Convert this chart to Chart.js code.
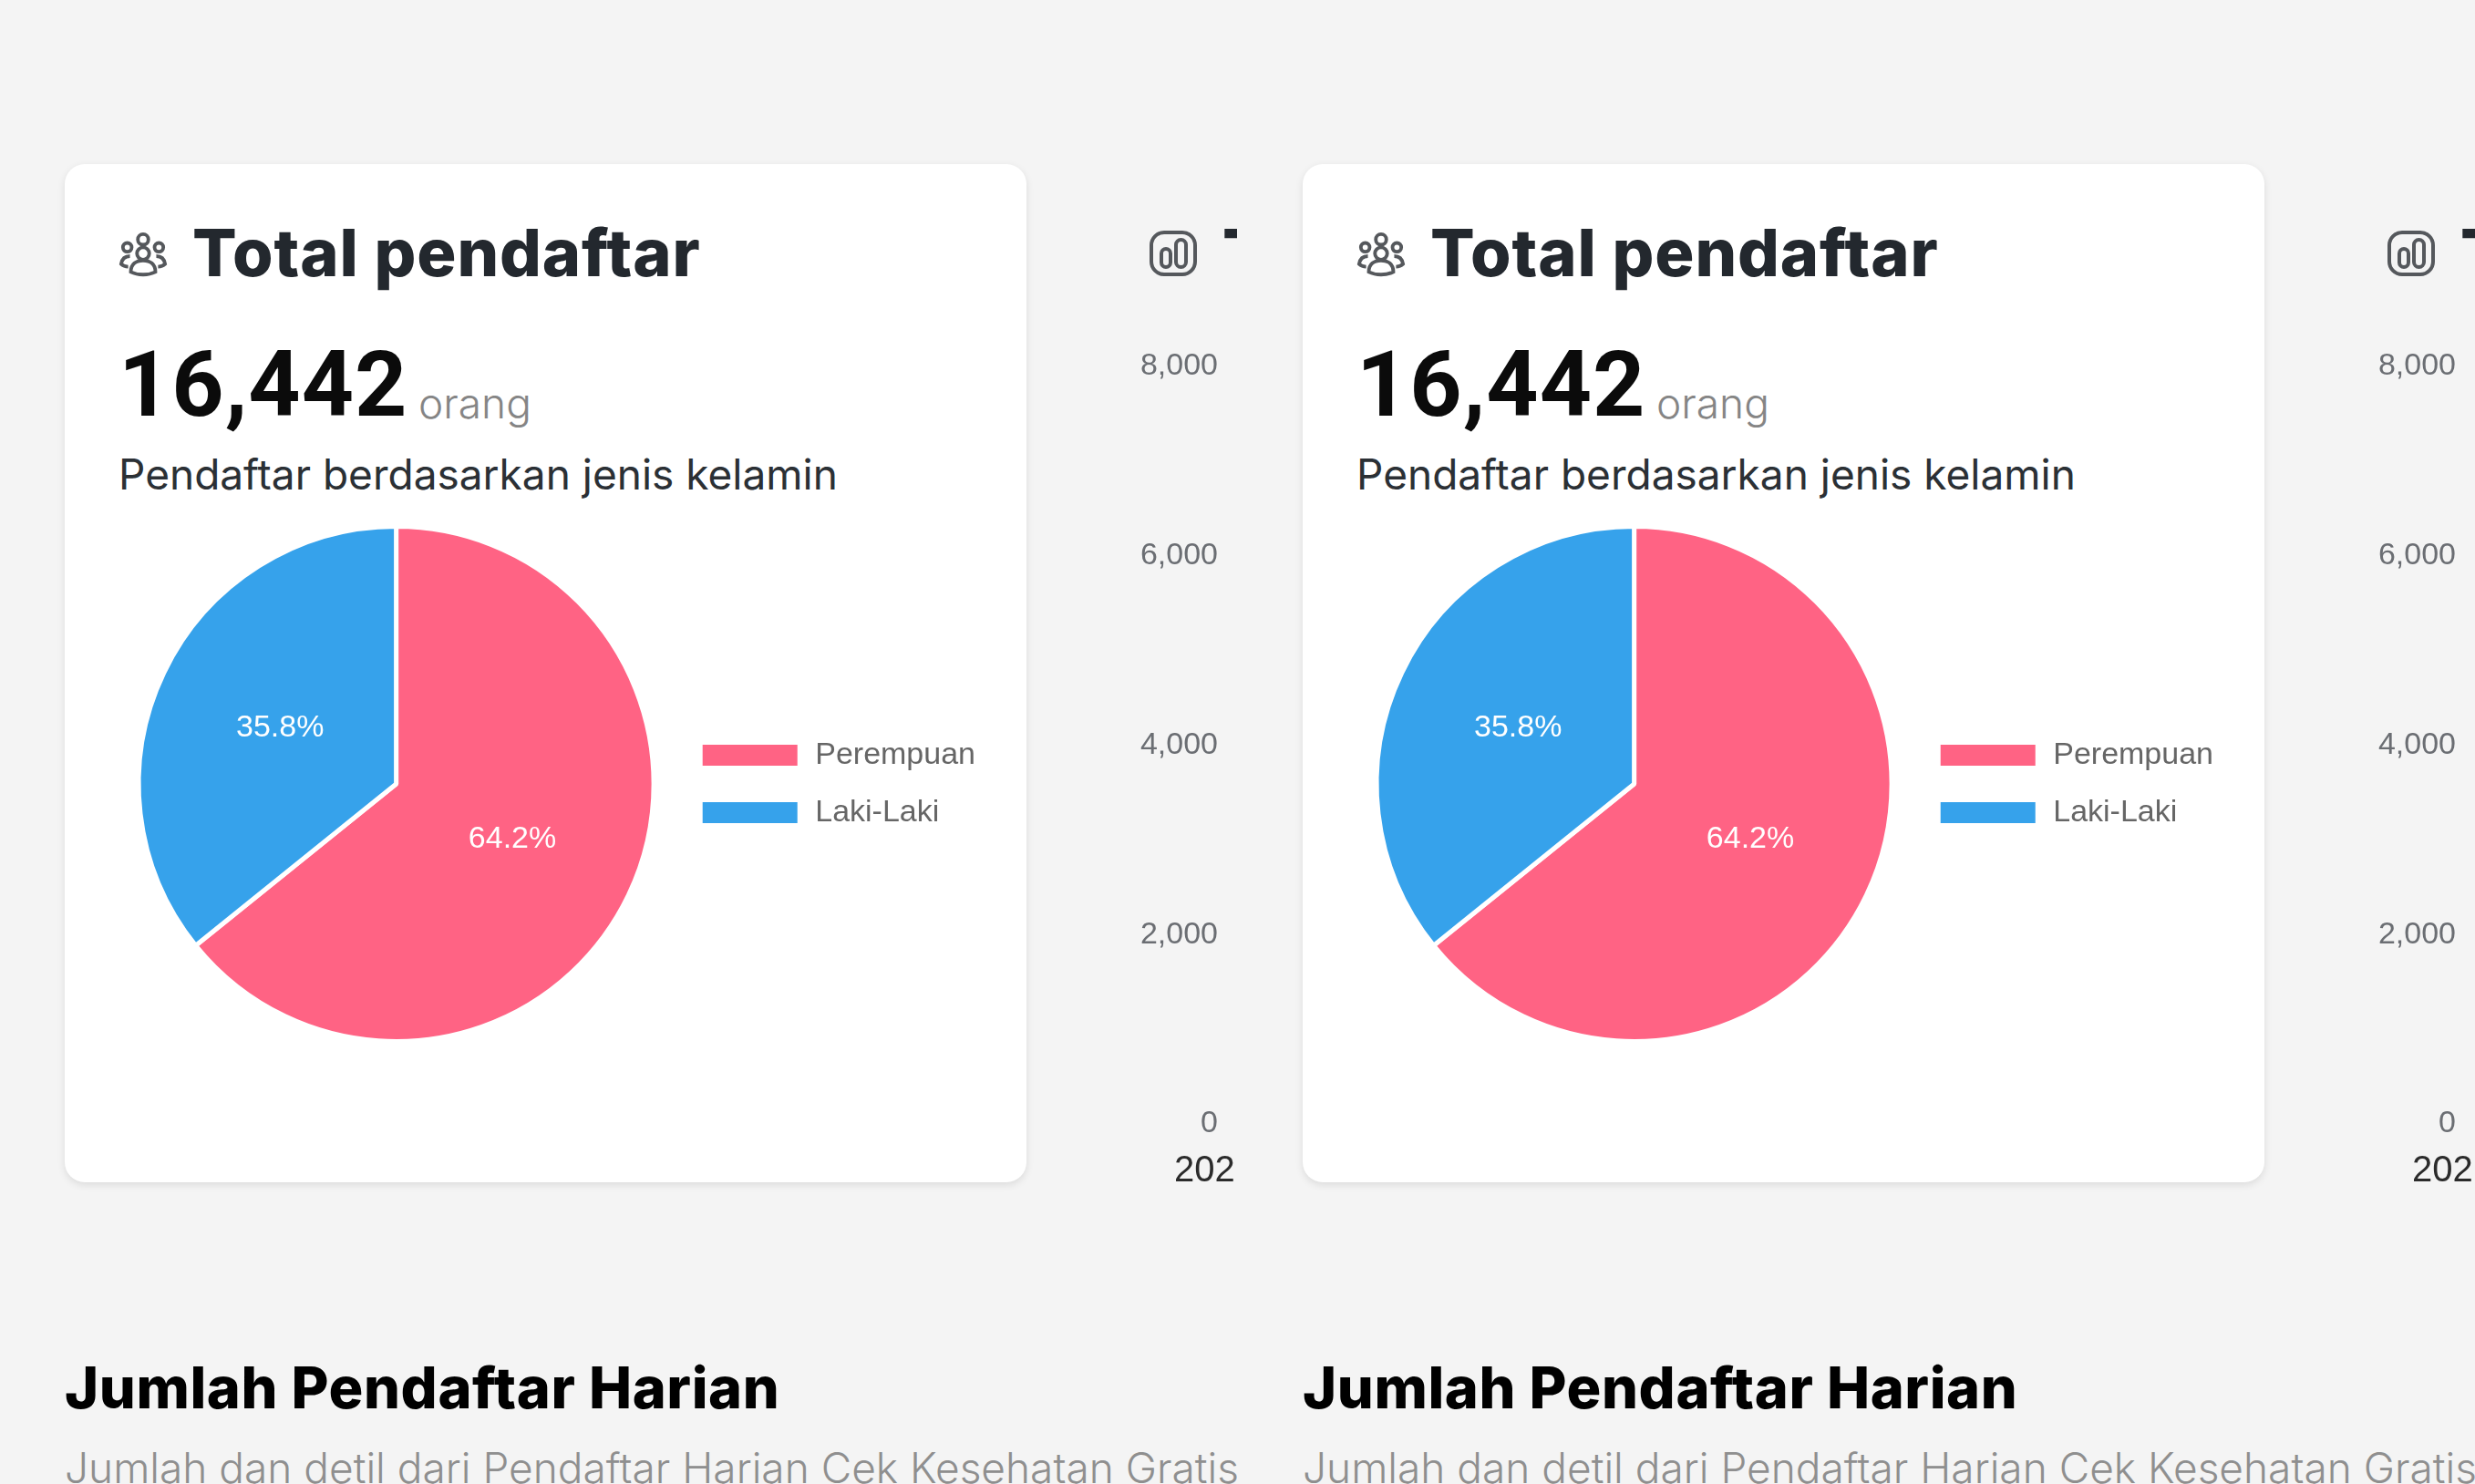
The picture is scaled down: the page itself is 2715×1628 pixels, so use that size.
<!DOCTYPE html>
<html>
<head>
<meta charset="utf-8">
<title>Total pendaftar</title>
<script src="https://cdn.jsdelivr.net/npm/chart.js@4"></script>
<style>
  html, body { margin: 0; padding: 0; background: #f4f4f4; }
  body { position: relative; width: 2715px; height: 1628px; overflow: hidden; font-family: Inter, sans-serif; }
  .panel { position: absolute; top: 0; width: 1357px; height: 1628px; overflow: hidden; }
  .panel > * { position: absolute; white-space: nowrap; }
  .card { left: 71px; top: 180px; width: 1055px; height: 1117px; background: #fff; border-radius: 22px; box-shadow: 0 3px 8px rgba(0,0,0,.1); }
  .heading { font-weight: 800; font-size: 72px; line-height: 72px; color: #23282e; letter-spacing: 0.9px; }
  .total { left: 130px; top: 364px; font-family: Roboto, sans-serif; font-weight: 700; font-size: 100px; line-height: 116px; color: #0b0b0b; letter-spacing: 1px; }
  .unit { left: 459px; top: 414px; font-weight: 300; font-size: 46px; line-height: 56px; color: #858585; }
  .sub { left: 130px; top: 492px; font-size: 46px; line-height: 56px; color: #2b3035; }
  .section { left: 71px; top: 1484px; font-weight: 800; font-size: 63px; line-height: 76px; color: #000; letter-spacing: 0.6px; }
  .note { left: 71px; top: 1582px; font-weight: 300; font-size: 46px; line-height: 56px; color: #8f8f8f; }
  canvas { display: block; }
</style>
</head>
<body>
<script>
var genderLabels = ['Perempuan', 'Laki-Laki'];
var genderValues = [10556, 5886];
var genderColors = ['#ff6384', '#36a2eb'];
var dailyLabels = ['202'];
var dailyValues = [];
var dailyTicks = [0, 2000, 4000, 6000, 8000];
var panelOffsets = [0, 1358];

var tickFont = 'Liberation Sans';

var peopleIcon = '<svg viewBox="0 0 56 52" fill="none" stroke="#55585c" stroke-width="4">' +
  '<circle cx="28" cy="9" r="6"/><circle cx="10" cy="18" r="5"/><circle cx="46" cy="18" r="5"/>' +
  '<circle cx="28" cy="25" r="7"/><path d="M14 46c0-9 6-13 14-13s14 4 14 13c-8 4-20 4-28 0z"/>' +
  '<path d="M13 28c-5 0-9 3-10 9 2 2 5 3 8 3M43 28c5 0 9 3 10 9-2 2-5 3-8 3"/></svg>';
var barsIcon = '<svg viewBox="0 0 52 50" fill="none" stroke="#55585c" stroke-width="4">' +
  '<rect x="2" y="2" width="48" height="46" rx="14"/><rect x="13" y="20" width="10" height="20" rx="5"/>' +
  '<rect x="29" y="10" width="11" height="30" rx="5.5"/></svg>';

// white percentages inside the slices
var sliceLabels = {
  id: 'sliceLabels',
  afterDatasetsDraw: function(chart){
    var ctx = chart.ctx;
    var values = chart.data.datasets[0].data;
    var total = values.reduce(function(a, b){ return a + b; }, 0);
    ctx.save();
    ctx.fillStyle = '#fff';
    ctx.font = '34px "' + tickFont + '"';
    ctx.textAlign = 'center';
    ctx.textBaseline = 'middle';
    chart.getDatasetMeta(0).data.forEach(function(arc, i){
      var pos = arc.tooltipPosition();
      ctx.fillText((values[i] / total * 100).toFixed(1) + '%', pos.x, pos.y);
    });
    ctx.restore();
  }
};

function addCanvas(panel, left, top, width, height){
  var canvas = document.createElement('canvas');
  canvas.width = width;
  canvas.height = height;
  canvas.style.left = left + 'px';
  canvas.style.top = top + 'px';
  panel.appendChild(canvas);
  return canvas;
}

function drawPie(canvas){
  return new Chart(canvas, {
    type: 'pie',
    data: {
      labels: genderLabels,
      datasets: [{ data: genderValues, backgroundColor: genderColors, borderColor: '#fff', borderWidth: 5 }]
    },
    options: {
      responsive: false,
      animation: false,
      layout: { padding: 0 },
      plugins: {
        tooltip: { enabled: false },
        legend: {
          position: 'right',
          labels: {
            boxWidth: 109,
            boxHeight: 28,
            padding: 29,
            color: '#666',
            font: { family: tickFont, size: 34 }
          }
        }
      }
    },
    plugins: [sliceLabels]
  });
}

function drawDaily(canvas){
  return new Chart(canvas, {
    type: 'bar',
    data: {
      labels: dailyLabels,
      datasets: [{ data: dailyValues, backgroundColor: '#36a2eb' }]
    },
    options: {
      responsive: false,
      animation: false,
      layout: { padding: { top: 42, right: 0, bottom: 0, left: 0 } },
      plugins: { legend: { display: false }, tooltip: { enabled: false } },
      scales: {
        y: {
          min: 0,
          max: 8000,
          afterFit: function(scale){ scale.width = 112; },
          afterBuildTicks: function(scale){
            scale.ticks = dailyTicks.map(function(v){ return { value: v }; });
          },
          grid: { display: false },
          border: { display: false },
          ticks: {
            padding: 8,
            color: '#6b6e73',
            font: { family: tickFont, size: 34 },
            callback: function(v){ return v.toLocaleString('en-US'); }
          }
        },
        x: {
          afterFit: function(scale){ scale.height = 70; },
          grid: { display: false },
          border: { display: false },
          ticks: {
            align: 'start',
            labelOffset: -208,
            padding: 20,
            maxRotation: 0,
            color: '#2b2b2b',
            font: { family: tickFont, size: 40 }
          }
        }
      }
    }
  });
}

panelOffsets.forEach(function(offset){
  var panel = document.createElement('div');
  panel.className = 'panel';
  panel.style.left = offset + 'px';
  panel.innerHTML =
    '<div class="card"></div>' +
    '<div style="left:130px;top:254px;width:54px;height:50px">' + peopleIcon + '</div>' +
    '<div class="heading" style="left:211px;top:241px">Total pendaftar</div>' +
    '<div class="total">16,442</div>' +
    '<div class="unit">orang</div>' +
    '<div class="sub">Pendaftar berdasarkan jenis kelamin</div>' +
    '<div style="left:1261px;top:253px;width:52px;height:50px">' + barsIcon + '</div>' +
    '<div class="heading" style="left:1341px;top:241px">T</div>' +
    '<div class="section">Jumlah Pendaftar Harian</div>' +
    '<div class="note">Jumlah dan detil dari Pendaftar Harian Cek Kesehatan Gratis</div>';
  document.body.appendChild(panel);
  drawPie(addCanvas(panel, 130, 575, 950, 570));
  drawDaily(addCanvas(panel, 1240, 360, 400, 943));
});
</script>
</body>
</html>
